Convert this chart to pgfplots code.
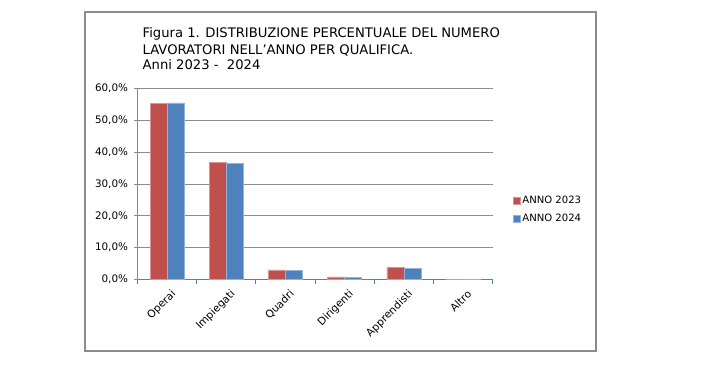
\documentclass[border=0pt]{standalone}
\usepackage{fontspec}
\setmainfont{DejaVu Sans}
\usepackage{pgfplots}
\pgfplotsset{compat=1.18}
\definecolor{cred}{HTML}{C0504D}
\definecolor{cblue}{HTML}{4F81BD}
\definecolor{gridgray}{HTML}{8C8C8C}
\begin{document}
\begin{tikzpicture}[x=1bp,y=1bp]
\path[fill=white] (0,0) rectangle (702,364);
\draw[gridgray, line width=1.1bp] (85,13) rectangle (596,352);
\begin{scope}[every node/.style={anchor=base west, inner sep=0pt, font=\fontsize{13.2}{15}\selectfont}]
\node at (142.5,326.7) {Figura 1. DISTRIBUZIONE PERCENTUALE DEL NUMERO};
\node at (142.5,310) {LAVORATORI NELL'ANNO PER QUALIFICA.};
\node at (142.5,294.5) {Anni 2023 -\ \ 2024};
\end{scope}
\begin{axis}[
  at={(137.5bp,84.5bp)}, anchor=south west,
  scale only axis, width=355bp, height=191bp,
  xmin=-0.5, xmax=5.5, ymin=0, ymax=60,
  ytick={0,10,...,60},
  yticklabel={\pgfmathprintnumber[fixed,fixed zerofill,precision=1,use comma]{\tick}\%},
  /pgf/number format/assume math mode=true,
  ymajorgrids, grid style={gridgray, line width=0.9bp},
  axis x line*=bottom, axis y line*=left,
  x axis line style={cblue, line width=0.9bp, -},
  y axis line style={gridgray, line width=1.3bp, -},
  xtick={-0.5,0.5,...,5.5}, xticklabels={},
  extra x ticks={0,1,2,3,4,5},
  extra x tick labels={Operai,Impiegati,Quadri,Dirigenti,Apprendisti,Altro},
  extra x tick style={major tick length=0pt, grid=none,
     xticklabel style={rotate=45, anchor=north east, inner sep=0pt, xshift=-4bp, yshift=-9bp, font=\fontsize{10.6}{11}\selectfont}},
  x tick style={cblue, line width=0.9bp},
  major tick length=4bp,
  xtick align=outside, ytick align=outside,
  y tick style={gridgray, line width=0.9bp},
  tick label style={font=\fontsize{10.4}{11}\selectfont},
  yticklabel style={xshift=-2bp},
  ybar=0pt, bar width=17bp,
  legend style={at={(rel axis cs:1.057,0.365)}, anchor=west, draw=none, fill=none,
     font=\fontsize{10.1}{11}\selectfont, row sep=5.5bp, inner sep=0pt},
  legend cell align=left,
  legend image code/.code={\fill[#1] (0bp,-3.5bp) rectangle (7bp,3.5bp);},
]
\addplot[fill=cred, draw=cred!60!white, line width=0.5bp, bar shift=-8.5bp] coordinates {(0,55.3) (1,36.8) (2,3.0) (3,0.8) (4,3.8) (5,0.15)};
\addplot[fill=cblue, draw=cblue!60!white, line width=0.5bp, bar shift=8.5bp] coordinates {(0,55.5) (1,36.5) (2,2.8) (3,0.6) (4,3.5) (5,0.1)};
\legend{ANNO 2023, ANNO 2024}
\end{axis}
\end{tikzpicture}
\end{document}
